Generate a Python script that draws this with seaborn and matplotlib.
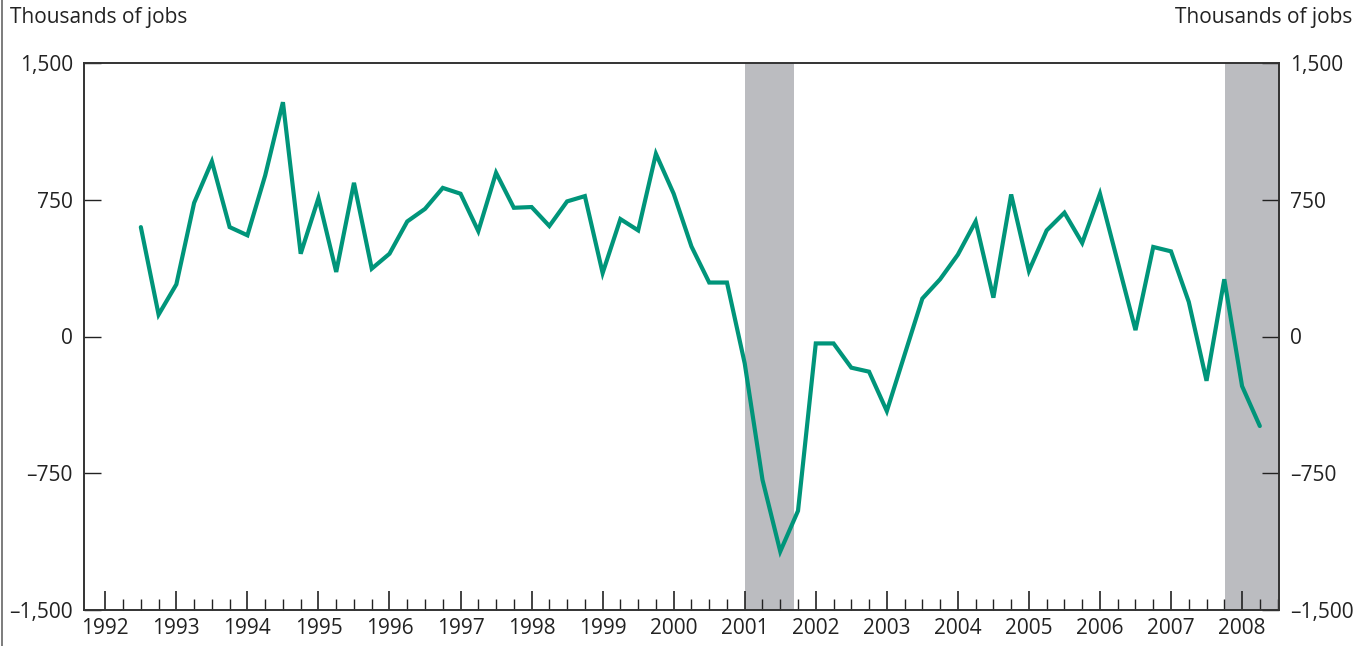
import pandas as pd
import seaborn as sns
import matplotlib.pyplot as plt
from matplotlib.ticker import FuncFormatter, FixedLocator
from matplotlib.lines import Line2D

# Quarterly change in payroll jobs, thousands
quarters = ['1992Q3', '1992Q4',
            '1993Q1', '1993Q2', '1993Q3', '1993Q4',
            '1994Q1', '1994Q2', '1994Q3', '1994Q4',
            '1995Q1', '1995Q2', '1995Q3', '1995Q4',
            '1996Q1', '1996Q2', '1996Q3', '1996Q4',
            '1997Q1', '1997Q2', '1997Q3', '1997Q4',
            '1998Q1', '1998Q2', '1998Q3', '1998Q4',
            '1999Q1', '1999Q2', '1999Q3', '1999Q4',
            '2000Q1', '2000Q2', '2000Q3', '2000Q4',
            '2001Q1', '2001Q2', '2001Q3', '2001Q4',
            '2002Q1', '2002Q2', '2002Q3', '2002Q4',
            '2003Q1', '2003Q2', '2003Q3', '2003Q4',
            '2004Q1', '2004Q2', '2004Q3', '2004Q4',
            '2005Q1', '2005Q2', '2005Q3', '2005Q4',
            '2006Q1', '2006Q2', '2006Q3', '2006Q4',
            '2007Q1', '2007Q2', '2007Q3', '2007Q4',
            '2008Q1', '2008Q2']
jobs = [600, 120, 286, 733, 960, 600, 555, 883,
        1285, 454, 759, 354, 843, 372, 454, 631,
        700, 815, 783, 578, 898, 706, 710, 606,
        741, 770, 348, 644, 582, 1002, 783, 494,
        296, 296, -148, -786, -1179, -956, -38, -38,
        -171, -193, -409, -100, 208, 314, 449, 631,
        213, 779, 360, 582, 679, 513, 783, 409,
        35, 491, 467, 190, -243, 314, -272, -491]

# recession periods (decimal years)
recessions = [(2001.0, 2001.7), (2007.76, 2008.6)]

year_labels = [str(y) for y in range(1992, 2009)]
y_ticks = [-1500, -750, 0, 750, 1500]

per = pd.PeriodIndex(quarters, freq='Q')
df = pd.DataFrame({'t': per.year + (per.quarter - 1) / 4, 'jobs': jobs})

sns.set_style('ticks')
plt.rcParams['font.family'] = ['Open Sans', 'DejaVu Sans']

fig = plt.figure(figsize=(13.68, 6.46), dpi=100)
ax = fig.add_axes([84 / 1368, 1 - 610 / 646, (1279 - 84) / 1368, (610 - 63) / 646])

for start, end in recessions:
    ax.axvspan(start, end, color='#bbbcc0', lw=0, zorder=0)

sns.lineplot(data=df, x='t', y='jobs', ax=ax, color='#00957a', linewidth=3,
             solid_joinstyle='miter', zorder=3)

ax.set_xlim(1991.7, 2008.52)
ax.set_ylim(-1500, 1500)
ax.set_xlabel('')
ax.set_ylabel('')

years = [int(y) for y in year_labels]
ax.set_xticks(years)
ax.set_xticklabels(year_labels)
ax.xaxis.set_minor_locator(FixedLocator([y + q / 4 for y in years for q in (1, 2, 3)]))
ax.tick_params(axis='x', which='major', direction='in', length=14, width=1.2,
               labelsize=15, pad=6, colors='#222222')
ax.tick_params(axis='x', which='minor', direction='in', length=8, width=1.0,
               colors='#222222')

fmt = FuncFormatter(lambda v, p: f'{v:,.0f}'.replace('-', '\u2013'))
ax.set_yticks(y_ticks)
ax.yaxis.set_major_formatter(fmt)
ax.tick_params(axis='y', direction='in', length=12, width=1.0, labelsize=15,
               pad=8, colors='#222222')

ax2 = ax.twinx()
ax2.set_ylim(-1500, 1500)
ax2.set_yticks(y_ticks)
ax2.yaxis.set_major_formatter(fmt)
ax2.tick_params(axis='y', direction='in', length=12, width=1.0, labelsize=15,
                pad=8, colors='#222222')

for a in (ax, ax2):
    for s in a.spines.values():
        s.set_visible(True)
        s.set_linewidth(1.2)
        s.set_color('#333333')

fig.text(10 / 1368, 1 - 18 / 646, 'Thousands of jobs', fontsize=15,
         ha='left', va='center', color='#222222')
fig.text(1352 / 1368, 1 - 18 / 646, 'Thousands of jobs', fontsize=15,
         ha='right', va='center', color='#222222')

# thin frame line at the left edge
fig.add_artist(Line2D([1.5 / 1368, 1.5 / 1368], [0, 1], color='#666666',
                      lw=1.2, transform=fig.transFigure))

fig.savefig('out.png', dpi=100)
